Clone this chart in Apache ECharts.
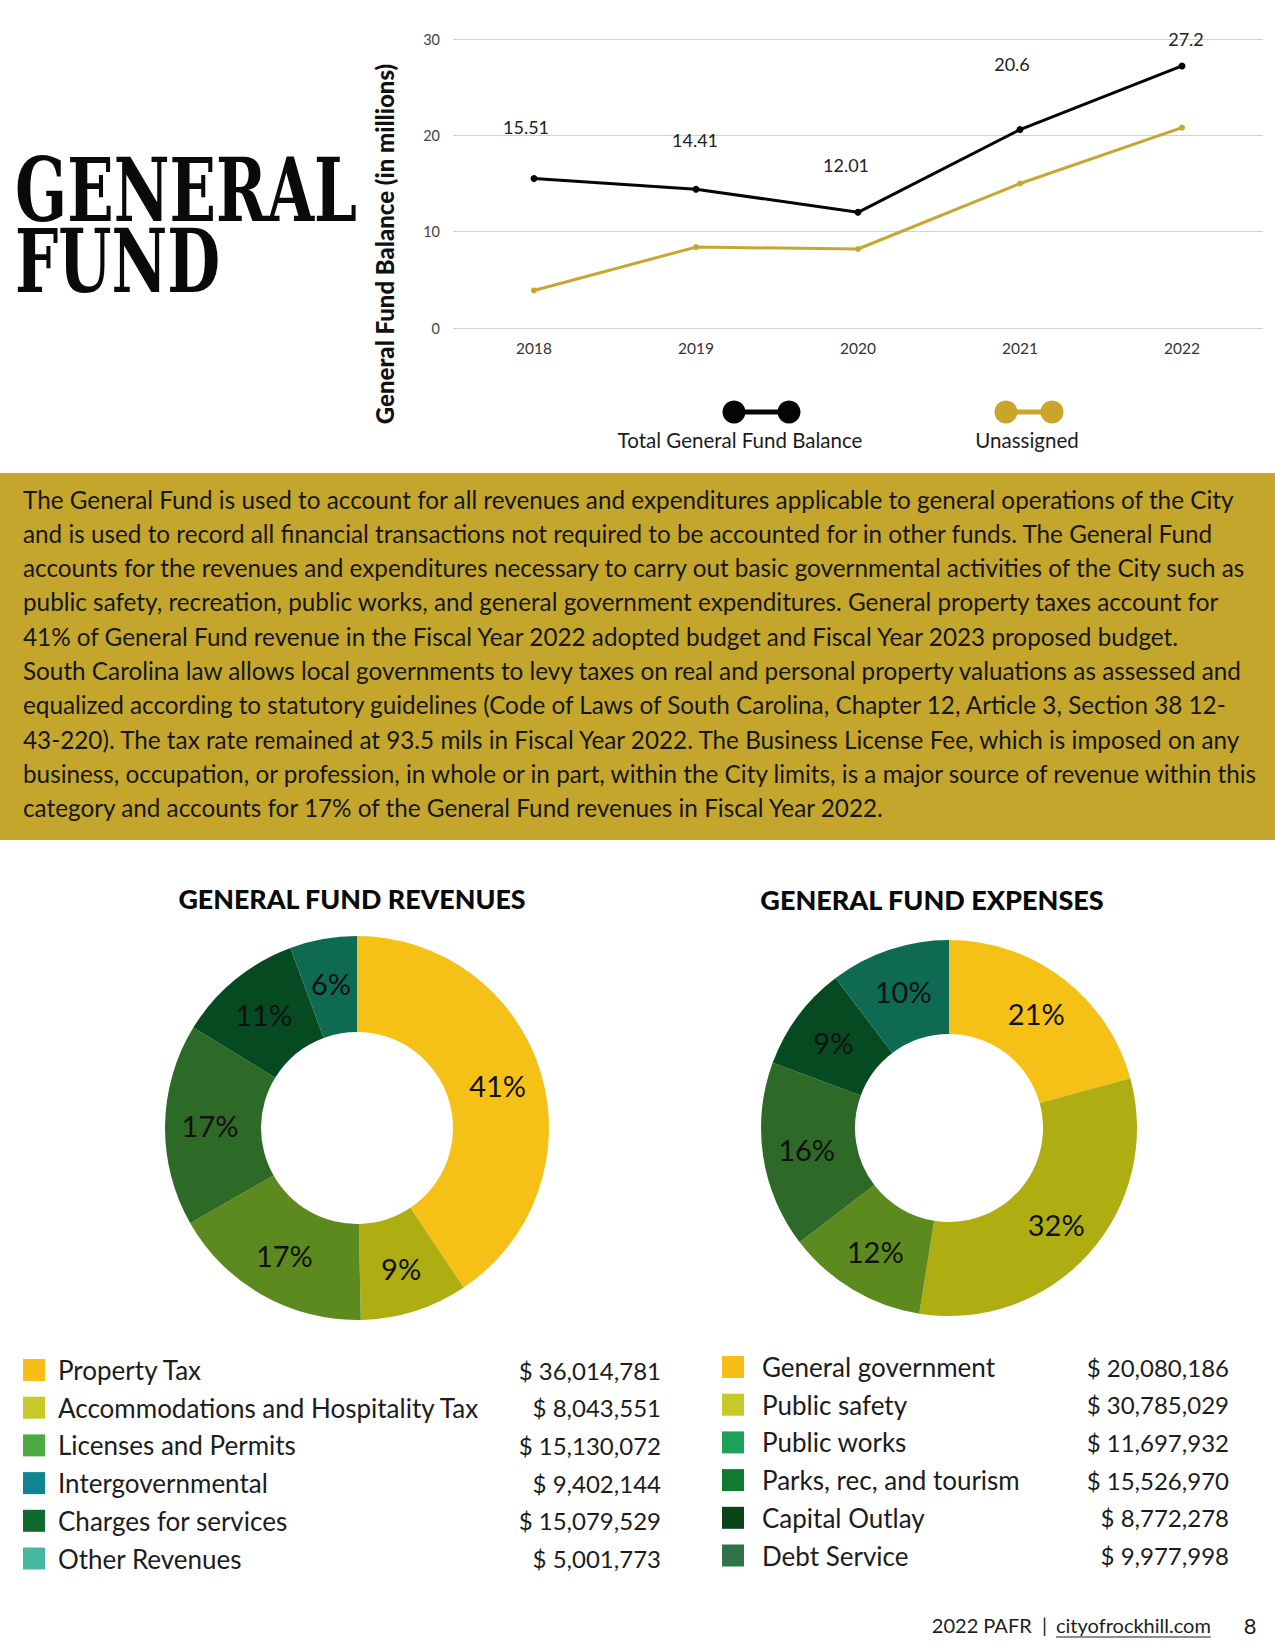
<!DOCTYPE html>
<html>
<head>
<meta charset="utf-8">
<script src="https://cdn.jsdelivr.net/npm/echarts@6/dist/echarts.min.js"></script>
<style>
html,body{margin:0;padding:0;background:#ffffff;}
#main{width:1275px;height:1650px;}
</style>
</head>
<body>
<div id="main"></div>
<script>
// ---------- DATA ----------
const years = ['2018', '2019', '2020', '2021', '2022'];
const totalBalance = [15.51, 14.41, 12.01, 20.6, 27.2];
const unassignedBalance = [3.9, 8.4, 8.2, 15.0, 20.8];
const balanceTicks = [0, 10, 20, 30];

const revenueNames = ['Property Tax', 'Accommodations and Hospitality Tax', 'Licenses and Permits',
  'Intergovernmental', 'Charges for services', 'Other Revenues'];
const revenueValues = [36014781, 8043551, 15130072, 9402144, 15079529, 5001773];
const revenueSliceOrder = [0, 1, 2, 4, 3, 5];

const expenseNames = ['General government', 'Public safety', 'Public works',
  'Parks, rec, and tourism', 'Capital Outlay', 'Debt Service'];
const expenseValues = [20080186, 30785029, 11697932, 15526970, 8772278, 9977998];

const paragraphLines = [
  'The General Fund is used to account for all revenues and expenditures applicable to general operations of the City',
  'and is used to record all financial transactions not required to be accounted for in other funds. The General Fund',
  'accounts for the revenues and expenditures necessary to carry out basic governmental activities of the City such as',
  'public safety, recreation, public works, and general government expenditures. General property taxes account for',
  '41% of General Fund revenue in the Fiscal Year 2022 adopted budget and Fiscal Year 2023 proposed budget.',
  'South Carolina law allows local governments to levy taxes on real and personal property valuations as assessed and',
  'equalized according to statutory guidelines (Code of Laws of South Carolina, Chapter 12, Article 3, Section 38 12-',
  '43-220). The tax rate remained at 93.5 mils in Fiscal Year 2022. The Business License Fee, which is imposed on any',
  'business, occupation, or profession, in whole or in part, within the City limits, is a major source of revenue within this',
  'category and accounts for 17% of the General Fund revenues in Fiscal Year 2022.'
];

// ---------- STYLE ----------
const FONT = 'Lato, "Open Sans", sans-serif';
const TEXT = '#1c1c1c';
const GOLD = '#C4A62C';
const LINE_GOLD = '#C6A831';
const pieColors = ['#F5C116', '#AEAE12', '#5C8A1E', '#2D6A27', '#064A22', '#0E6B52'];
const revenueSwatches = ['#F6BE16', '#C7C92A', '#4DAA43', '#0F8594', '#0F6B2B', '#47B8A0'];
const expenseSwatches = ['#F6BE16', '#C7C92A', '#1FA257', '#0F7A30', '#0A4418', '#2E7446'];
const totalLabelOffsets = [[-8, -52], [-1, -49], [-12, -47], [-8, -66], [4, -27]];

const measureCtx = document.createElement('canvas').getContext('2d');
function textWidth(str, font) { measureCtx.font = font; return measureCtx.measureText(str).width; }
function money(v) { return '$ ' + v.toLocaleString('en-US'); }
function pct(v, arr) { const s = arr.reduce((a, b) => a + b, 0); return Math.round(v / s * 100) + '%'; }

// Title sizing
const titleFamily = '"DejaVu Serif Condensed", "DejaVu Serif", serif';
const titleSize = 88;
const titleW = textWidth('GENERAL', 'bold ' + titleSize + 'px ' + titleFamily);
const titleScale = 342 / titleW;

// Paragraph sizing: widest line must fit in the box
const paraProbe = Math.max.apply(null, paragraphLines.map(function (l) { return textWidth(l, '20px ' + FONT); }));
const paraSize = 20 * 1238 / paraProbe;

const chart = echarts.init(document.getElementById('main'), null, { renderer: 'svg', width: 1275, height: 1650 });

const graphics = [];
graphics.push({
  type: 'text', x: 15, y: 190, scaleX: titleScale, scaleY: 1,
  style: { text: 'GENERAL', fontFamily: titleFamily, fontWeight: 'bold', fontSize: titleSize,
    fill: '#0a0a0a', verticalAlign: 'middle' }
});
graphics.push({
  type: 'text', x: 15, y: 261, scaleX: titleScale, scaleY: 1,
  style: { text: 'FUND', fontFamily: titleFamily, fontWeight: 'bold', fontSize: titleSize,
    fill: '#0a0a0a', verticalAlign: 'middle' }
});
// y axis title
graphics.push({
  type: 'text', x: 384, y: 244, rotation: Math.PI / 2,
  style: { text: 'General Fund Balance (in millions)', fontFamily: FONT, fontWeight: 900, fontSize: 24,
    fill: '#111', align: 'center', verticalAlign: 'middle' }
});
// line legend (dumbbells)
function dumbbell(x1, x2, y, color, label, labelX) {
  graphics.push({ type: 'line', shape: { x1: x1, y1: y, x2: x2, y2: y }, style: { stroke: color, lineWidth: 5 } });
  graphics.push({ type: 'circle', shape: { cx: x1, cy: y, r: 11.5 }, style: { fill: color } });
  graphics.push({ type: 'circle', shape: { cx: x2, cy: y, r: 11.5 }, style: { fill: color } });
  graphics.push({ type: 'text', x: labelX, y: 440,
    style: { text: label, fontFamily: FONT, fontSize: 20.5, fill: TEXT, align: 'center', verticalAlign: 'middle' } });
}
dumbbell(734, 789, 412, '#050505', 'Total General Fund Balance', 740);
dumbbell(1006, 1052, 412, '#C9A52C', 'Unassigned', 1027);

// gold box + paragraph
graphics.push({ type: 'rect', shape: { x: 0, y: 473, width: 1275, height: 367 }, style: { fill: GOLD }, z: -1 });
paragraphLines.forEach(function (line, i) {
  graphics.push({ type: 'text', x: 23, y: 499 + i * 34.3,
    style: { text: line, fontFamily: FONT, fontSize: paraSize, fill: '#161616', verticalAlign: 'middle' } });
});

// pie titles
graphics.push({ type: 'text', x: 352, y: 899,
  style: { text: 'GENERAL FUND REVENUES', fontFamily: FONT, fontWeight: 900, fontSize: 26.8, fill: '#0a0a0a', align: 'center', verticalAlign: 'middle' } });
graphics.push({ type: 'text', x: 932, y: 899,
  style: { text: 'GENERAL FUND EXPENSES', fontFamily: FONT, fontWeight: 900, fontSize: 27, fill: '#0a0a0a', align: 'center', verticalAlign: 'middle' } });

// footer
graphics.push({ type: 'text', x: 1047, y: 1625,
  style: { text: '2022 PAFR  |', fontFamily: FONT, fontSize: 20, fill: TEXT, align: 'right', verticalAlign: 'middle' } });
graphics.push({ type: 'text', x: 1056, y: 1625,
  style: { text: 'cityofrockhill.com', fontFamily: FONT, fontSize: 20, fill: TEXT, align: 'left', verticalAlign: 'middle' } });
const urlW = textWidth('cityofrockhill.com', '20px ' + FONT);
graphics.push({ type: 'line', shape: { x1: 1056, y1: 1637, x2: 1056 + urlW, y2: 1637 }, style: { stroke: TEXT, lineWidth: 1.2 } });
graphics.push({ type: 'text', x: 1250, y: 1625,
  style: { text: '8', fontFamily: FONT, fontSize: 22, fill: TEXT, align: 'center', verticalAlign: 'middle' } });

function legendFor(names, values, swatches, left, top, nameW, valW, pad) {
  return {
    orient: 'vertical', left: left, top: top, padding: 0,
    itemWidth: 22, itemHeight: 22, itemGap: 11.7, icon: 'rect',
    selectedMode: false,
    data: names.map(function (n, i) { return { name: n, itemStyle: { color: swatches[i] } }; }),
    formatter: function (name) {
      const v = values[names.indexOf(name)];
      return '{n|' + name + '}{v|' + money(v) + '}';
    },
    textStyle: {
      fontFamily: FONT, fontSize: 26, color: TEXT, lineHeight: 26,
      rich: {
        n: { fontFamily: FONT, fontSize: 26, color: TEXT, width: nameW, padding: [0, 0, 0, pad], lineHeight: 26 },
        v: { fontFamily: FONT, fontSize: 24, color: TEXT, width: valW, align: 'right', lineHeight: 26 }
      }
    }
  };
}

const option = {
  animation: false,
  backgroundColor: '#ffffff',
  grid: { left: 453, top: 39, width: 810, height: 289, containLabel: false },
  xAxis: {
    type: 'category', data: years, boundaryGap: true,
    axisLine: { show: false }, axisTick: { show: false },
    axisLabel: { fontFamily: FONT, fontSize: 15.5, color: '#333', margin: 12 }
  },
  yAxis: {
    type: 'value', min: balanceTicks[0], max: balanceTicks[balanceTicks.length - 1], interval: 10,
    axisLine: { show: false }, axisTick: { show: false },
    axisLabel: { fontFamily: FONT, fontSize: 14.5, color: '#444', margin: 13 },
    splitLine: { lineStyle: { color: '#d2d2d2', width: 1.2 } }
  },
  legend: [
    legendFor(revenueNames, revenueValues, revenueSwatches, 23, 1357, 440, 163, 8),
    legendFor(expenseNames, expenseValues, expenseSwatches, 722, 1354, 300, 167, 13)
  ],
  series: [
    {
      type: 'line', name: 'Unassigned', data: unassignedBalance, color: LINE_GOLD,
      symbol: 'circle', symbolSize: 6, lineStyle: { width: 3, color: LINE_GOLD }, itemStyle: { color: LINE_GOLD },
      z: 3
    },
    {
      type: 'line', name: 'Total General Fund Balance', color: '#050505',
      data: totalBalance.map(function (v, i) {
        return { value: v, label: { offset: totalLabelOffsets[i] } };
      }),
      symbol: 'circle', symbolSize: 7, lineStyle: { width: 3, color: '#050505' }, itemStyle: { color: '#050505' },
      label: { show: true, position: 'inside', fontFamily: FONT, fontSize: 18, color: '#222', formatter: '{c}' },
      z: 4
    },
    {
      type: 'pie', name: 'Revenues', center: [357, 1128], radius: [96, 192], startAngle: 90, clockwise: true,
      legendHoverLink: false,
      data: revenueSliceOrder.map(function (idx, k) {
        return { name: revenueNames[idx], value: revenueValues[idx], itemStyle: { color: pieColors[k] } };
      }),
      label: {
        show: true, position: 'inside', fontFamily: FONT, fontSize: 29, color: '#111',
        formatter: function (p) { return pct(p.value, revenueValues); }
      },
      labelLine: { show: false }, itemStyle: { borderWidth: 0 }, emphasis: { disabled: true }
    },
    {
      type: 'pie', name: 'Expenses', center: [949, 1128], radius: [94, 188], startAngle: 90, clockwise: true,
      legendHoverLink: false,
      data: expenseNames.map(function (n, k) {
        return { name: n, value: expenseValues[k], itemStyle: { color: pieColors[k] } };
      }),
      label: {
        show: true, position: 'inside', fontFamily: FONT, fontSize: 29, color: '#111',
        formatter: function (p) { return pct(p.value, expenseValues); }
      },
      labelLine: { show: false }, itemStyle: { borderWidth: 0 }, emphasis: { disabled: true }
    }
  ],
  graphic: graphics
};
chart.setOption(option);
</script>
</body>
</html>
